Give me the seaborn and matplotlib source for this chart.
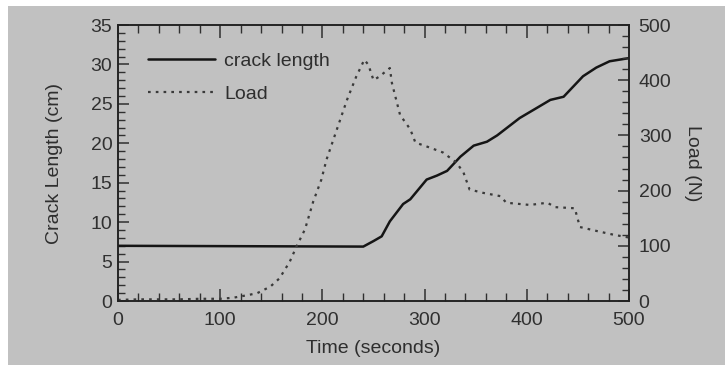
import numpy as np
import pandas as pd
import matplotlib
matplotlib.use("Agg")
import matplotlib.pyplot as plt
from matplotlib.patches import Rectangle
from matplotlib.ticker import MultipleLocator
import seaborn as sns

# ---- data ----
crack_time = [0, 240, 250, 258, 266, 279, 286, 302, 312, 322, 335, 348, 361,
              371, 393, 410, 423, 436, 455, 468, 481, 500]
crack_cm = [7.0, 6.9, 7.6, 8.2, 10.1, 12.3, 12.9, 15.4, 15.9, 16.5, 18.3, 19.7,
            20.2, 21.0, 23.2, 24.5, 25.5, 25.9, 28.5, 29.6, 30.4, 30.8]

load_time = [0, 20, 40, 60, 80, 100, 113, 125, 136, 149, 158, 168, 175, 183,
             191, 199, 204, 214, 224, 233, 241, 245, 250, 256, 266, 268, 276,
             286, 291, 305, 318, 331, 338, 344, 357, 374, 380, 403, 420, 428,
             447, 449, 452, 468, 485, 500]
load_n = [2, 3, 3, 3, 4, 4, 6, 10, 14, 26, 41, 71, 100, 130, 180, 220, 256,
          310, 364, 406, 437, 428, 400, 407, 422, 395, 337, 311, 287, 278, 269,
          251, 233, 202, 196, 190, 178, 174, 178, 170, 168, 154, 134, 127, 120,
          115]

legend_labels = ["crack length", "Load"]
x_label = "Time (seconds)"
y_label = "Crack Length (cm)"
y2_label = "Load (N)"

# ---- style ----
sns.set_style("ticks")
BG = "#c1c1c1"
TXT = "#2e2e2e"
FS = 14
plt.rcParams["font.family"] = ["Liberation Sans", "DejaVu Sans"]
plt.rcParams["text.color"] = TXT
plt.rcParams["axes.labelcolor"] = TXT
plt.rcParams["xtick.color"] = "#303030"
plt.rcParams["ytick.color"] = "#303030"

fig = plt.figure(figsize=(7.25, 3.65), dpi=100, facecolor="white")
fig.patches.append(Rectangle((8 / 725, -0.1), 1.2, 0.1 + 359 / 365,
                             transform=fig.transFigure,
                             facecolor=BG, edgecolor="none", zorder=-10))

ax = fig.add_axes([118 / 725, 64 / 365, 511 / 725, 276 / 365])
ax.set_facecolor("none")
ax2 = ax.twinx()
ax2.set_facecolor("none")

crack_df = pd.DataFrame({"t": crack_time, "v": crack_cm})
load_df = pd.DataFrame({"t": load_time, "v": load_n})

sns.lineplot(data=crack_df, x="t", y="v", ax=ax, color="#151515", linewidth=1.8,
             label=legend_labels[0], legend=False)
sns.lineplot(data=load_df, x="t", y="v", ax=ax2, color="#3a3a3a", linewidth=1.6,
             linestyle=(0, (1.2, 2.3)), label=legend_labels[1], legend=False)

ax.set_xlim(0, 500)
ax.set_ylim(0, 35)
ax2.set_ylim(0, 500)

for a in (ax, ax2):
    for s in a.spines.values():
        s.set_color("#202020")
        s.set_linewidth(1.1)

ax.xaxis.set_major_locator(MultipleLocator(100))
ax.xaxis.set_minor_locator(MultipleLocator(20))
ax.yaxis.set_major_locator(MultipleLocator(5))
ax.yaxis.set_minor_locator(MultipleLocator(1))
ax2.yaxis.set_major_locator(MultipleLocator(100))
ax2.yaxis.set_minor_locator(MultipleLocator(20))

ax.tick_params(axis="x", which="both", direction="in", top=True, bottom=True,
               labelsize=FS, pad=8)
ax.tick_params(axis="x", which="major", length=9, width=1.1)
ax.tick_params(axis="x", which="minor", length=5.5, width=1.0)
ax.tick_params(axis="y", which="both", direction="in", left=True, right=False,
               labelsize=FS, pad=4)
ax.tick_params(axis="y", which="major", length=8, width=1.1)
ax.tick_params(axis="y", which="minor", length=5, width=1.0)
ax2.tick_params(axis="y", which="both", direction="in", right=True, left=False,
                labelsize=FS, pad=7)
ax2.tick_params(axis="y", which="major", length=8, width=1.1)
ax2.tick_params(axis="y", which="minor", length=5, width=1.0)

ax.set_xlabel(x_label, fontsize=FS, labelpad=8)
ax.set_ylabel(y_label, fontsize=FS, labelpad=20)
ax2.set_ylabel(y2_label, fontsize=FS, rotation=270, va="bottom", labelpad=9)

h1, l1 = ax.get_legend_handles_labels()
h2, l2 = ax2.get_legend_handles_labels()
leg = ax.legend(h1 + h2, l1 + l2, loc="upper left", frameon=False, fontsize=FS,
                handlelength=3.45, handletextpad=0.45, labelspacing=0.8,
                bbox_to_anchor=(0.025, 0.965))

fig.savefig("out.png", dpi=100, facecolor=fig.get_facecolor())
